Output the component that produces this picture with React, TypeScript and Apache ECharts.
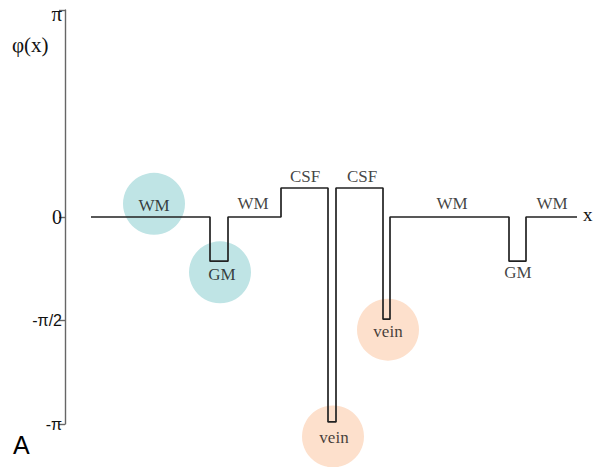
import React, { useEffect, useRef } from "react";
import * as echarts from "echarts";

const PI = Math.PI;
// boundaries along x (arbitrary position units) and phase level in each interval
const boundaries = [26, 145, 163, 216, 263, 271, 318, 325, 444, 461, 512];
const levels = [0, -0.67, 0, 0.44, -3.11, 0.44, -1.55, 0, -0.67, 0];

const yTicks = [-PI, -PI / 2, 0, PI];

const circleX = [89, 155, 268, 323];
const circleY = [0.2, -0.84, -3.33, -1.71];
const circleColors = ["#bfe4e5", "#bfe4e5", "#fde0cc", "#fde0cc"];

const labelText = ["WM", "GM", "WM", "CSF", "CSF", "WM", "WM", "GM", "vein", "vein"];
const labelX = [89, 157, 188, 240, 297, 387, 487, 453, 269, 323];
const labelY = [0.18, -0.88, 0.2, 0.61, 0.61, 0.2, 0.2, -0.84, -3.35, -1.74];

function buildSteps(): number[][] {
  const pts: number[][] = [];
  for (let i = 0; i < levels.length; i++) {
    pts.push([boundaries[i], levels[i]]);
    pts.push([boundaries[i + 1], levels[i]]);
  }
  return pts;
}

function tickName(v: number): string {
  if (Math.abs(v - PI) < 1e-6) return "{p|π}";
  if (Math.abs(v) < 1e-6) return "{s|0}";
  if (Math.abs(v + PI / 2) < 1e-6) return "{a|-π/2}";
  if (Math.abs(v + PI) < 1e-6) return "{a|-π}";
  return "";
}

export default function App() {
  const ref = useRef<HTMLDivElement>(null);
  useEffect(() => {
    if (!ref.current) return;
    const chart = echarts.init(ref.current, undefined, { renderer: "svg" });
    chart.setOption({
      animation: false,
      grid: { left: 65, right: 16, top: 10, bottom: 43 },
      xAxis: {
        type: "value",
        min: 0,
        max: 512,
        show: false,
      },
      yAxis: {
        type: "value",
        min: -PI,
        max: PI,
        interval: PI / 2,
        splitLine: { show: false },
        axisLine: { show: true, lineStyle: { color: "#666", width: 1.4 } },
        axisTick: {
          show: true,
          length: 6,
          customValues: yTicks,
          lineStyle: { color: "#666", width: 1.4 },
        },
        axisLabel: {
          customValues: yTicks,
          margin: 3,
          color: "#111",
          formatter: (v: number) => tickName(v),
          rich: {
            p: { fontFamily: "Liberation Serif", fontSize: 21, color: "#111", padding: [8, 0, 0, 0] },
            s: { fontFamily: "Liberation Serif", fontSize: 20, color: "#111" },
            a: { fontFamily: "Liberation Sans", fontSize: 16, color: "#111" },
          },
        },
      },
      series: [
        {
          type: "scatter",
          clip: false,
          silent: true,
          symbol: "circle",
          symbolSize: 62,
          data: circleX.map((x, i) => ({
            value: [x, circleY[i]],
            itemStyle: { color: circleColors[i], opacity: 1 },
          })),
          z: 1,
        },
        {
          type: "line",
          clip: false,
          showSymbol: false,
          symbol: "none",
          data: buildSteps(),
          lineStyle: { color: "#222", width: 1.7 },
          z: 2,
        },
        {
          type: "scatter",
          clip: false,
          symbolSize: 0,
          data: labelText.map((t, i) => ({ name: t, value: [labelX[i], labelY[i]] })),
          label: {
            show: true,
            position: "inside",
            formatter: (p: any) => p.name,
            fontFamily: "Liberation Serif",
            fontSize: 17,
            color: "#111",
          },
          z: 3,
        },
      ],
      graphic: [
        {
          type: "text",
          left: 12,
          top: 34,
          style: { text: "φ(x)", fontFamily: "Liberation Serif", fontSize: 21, fill: "#111" },
        },
        {
          type: "text",
          left: 583,
          top: 205,
          style: { text: "x", fontFamily: "Liberation Serif", fontSize: 19, fill: "#111" },
        },
        {
          type: "text",
          left: 13,
          top: 432,
          style: { text: "A", fontFamily: "Liberation Sans", fontSize: 25, fill: "#000" },
        },
      ],
    });
    return () => chart.dispose();
  }, []);
  return <div ref={ref} style={{ width: 593, height: 467, position: "absolute", left: 0, top: 0 }} />;
}
